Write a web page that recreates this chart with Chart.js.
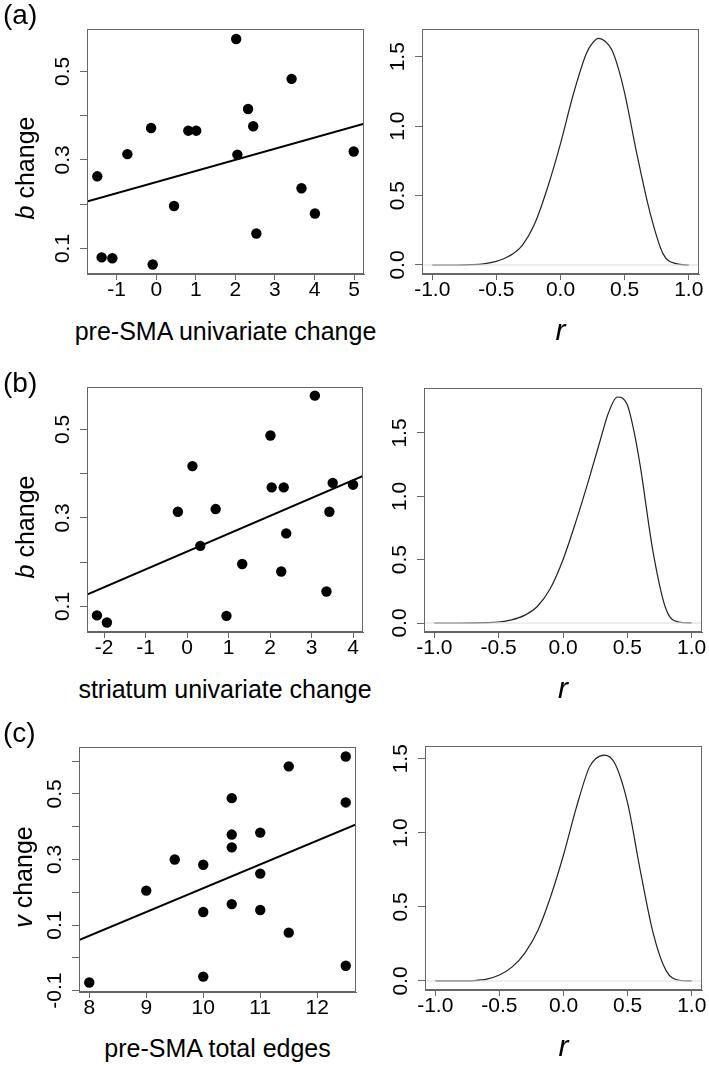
<!DOCTYPE html>
<html>
<head>
<meta charset="utf-8">
<script src="https://cdn.jsdelivr.net/npm/chart.js@4.4.0/dist/chart.umd.min.js"></script>
<style>
body { margin: 0; background: #fff; width: 709px; height: 1066px; position: relative; overflow: hidden;
       font-family: "Liberation Sans", Arial, Helvetica, sans-serif; }
canvas { position: absolute; }
.txt { position: absolute; white-space: nowrap; color: #000; line-height: 1; }
</style>
</head>
<body>
<canvas id="aScatter"></canvas>
<canvas id="aDensity"></canvas>
<canvas id="bScatter"></canvas>
<canvas id="bDensity"></canvas>
<canvas id="cScatter"></canvas>
<canvas id="cDensity"></canvas>
<script>
// (a) pre-SMA univariate change vs b change
const preSmaUni = [-1.49, -1.38, -1.11, -0.73, -0.13, -0.09, 0.45, 0.81, 1.01, 2.02, 2.05, 2.32, 2.45, 2.53, 3.42, 3.67, 4.01, 4.99];
const bChangeA = [0.263, 0.080, 0.078, 0.313, 0.372, 0.064, 0.196, 0.366, 0.366, 0.573, 0.312, 0.415, 0.376, 0.134, 0.483, 0.236, 0.179, 0.319];
const fitAX = [-1.75, 5.25];
const fitAY = [0.206, 0.382];

// (b) striatum univariate change vs b change
const striatumUni = [-2.17, -1.93, -0.22, 0.13, 0.32, 0.69, 0.95, 1.33, 2.01, 2.04, 2.33, 2.39, 2.27, 3.08, 3.36, 3.43, 3.51, 4.00];
const bChangeB = [0.080, 0.064, 0.314, 0.417, 0.237, 0.320, 0.079, 0.196, 0.486, 0.369, 0.369, 0.265, 0.179, 0.576, 0.134, 0.314, 0.379, 0.375];
const fitBX = [-2.41, 4.24];
const fitBY = [0.127, 0.395];

// (c) pre-SMA total edges vs v change
const preSmaEdges = [8, 9, 9.5, 10, 10, 10, 10.5, 10.5, 10.5, 10.5, 11, 11, 11, 11.5, 11.5, 12.5, 12.5, 12.5];
const vChange = [-0.075, 0.205, 0.300, 0.284, 0.140, -0.057, 0.487, 0.376, 0.337, 0.164, 0.382, 0.257, 0.146, 0.584, 0.077, 0.614, 0.474, -0.024];
const fitCX = [7.82, 12.68];
const fitCY = [0.054, 0.407];

// posterior densities of r
const rA = [-1, -0.8, -0.7, -0.6, -0.5, -0.4, -0.3, -0.2, -0.1, 0, 0.1, 0.2, 0.25, 0.297, 0.35, 0.4, 0.45, 0.5, 0.6, 0.7, 0.8, 0.9, 1];
const densA = [0, 0, 0.002, 0.008, 0.026, 0.064, 0.14, 0.30, 0.56, 0.874, 1.23, 1.52, 1.60, 1.633, 1.61, 1.55, 1.42, 1.24, 0.78, 0.37, 0.08, 0.01, 0];
const rB = [-1, -0.8, -0.7, -0.6, -0.5, -0.4, -0.3, -0.2, -0.1, 0, 0.1, 0.2, 0.3, 0.35, 0.422, 0.5, 0.55, 0.6, 0.7, 0.8, 0.9, 1];
const densB = [0, 0, 0.001, 0.003, 0.008, 0.025, 0.06, 0.13, 0.27, 0.50, 0.80, 1.13, 1.48, 1.65, 1.784, 1.72, 1.52, 1.24, 0.56, 0.11, 0.008, 0];
const rC = [-1, -0.8, -0.7, -0.6, -0.5, -0.4, -0.3, -0.2, -0.1, 0, 0.1, 0.2, 0.25, 0.317, 0.4, 0.5, 0.6, 0.7, 0.8, 0.9, 1];
const densC = [0, 0, 0.002, 0.012, 0.04, 0.095, 0.19, 0.34, 0.57, 0.85, 1.17, 1.44, 1.50, 1.525, 1.47, 1.20, 0.74, 0.32, 0.07, 0.005, 0];

// tick values and labelled ticks
const abXTicksA = [-1, 0, 1, 2, 3, 4, 5];
const abXTicksB = [-2, -1, 0, 1, 2, 3, 4];
const edgeTicks = [8, 9, 10, 11, 12];
const bTicks = [0.1, 0.2, 0.3, 0.4, 0.5];
const bTickLabels = [0.1, 0.3, 0.5];
const vTicks = [-0.1, 0, 0.1, 0.2, 0.3, 0.4, 0.5, 0.6];
const vTickLabels = [-0.1, 0.1, 0.3, 0.5];
const rTicks = [-1, -0.5, 0, 0.5, 1];
const densTicks = [0, 0.5, 1, 1.5];

const GRAY = '#666';
const FONT = '"Liberation Sans", Arial, Helvetica, sans-serif';
const TICK_SIZE = 21;
const AX_W = 50, AX_H = 40, PAD_T = 20, PAD_R = 20;

const measureCtx = document.createElement('canvas').getContext('2d');
measureCtx.font = TICK_SIZE + 'px ' + FONT;

const boxPlugin = {
  id: 'box',
  afterDraw(chart) {
    const a = chart.chartArea, ctx = chart.ctx;
    ctx.save();
    ctx.strokeStyle = GRAY;
    ctx.lineWidth = 1;
    ctx.strokeRect(Math.round(a.left) + 0.5, Math.round(a.top) + 0.5,
                   Math.round(a.right - a.left) - 1, Math.round(a.bottom - a.top) - 1);
    ctx.restore();
  }
};

function pts(xs, ys) {
  return xs.map((x, i) => ({ x: x, y: ys[i] }));
}

function makeChart(id, box, range, xTicks, yTicks, yLabels, xFmt, datasets) {
  const cv = document.getElementById(id);
  cv.width = box.r - box.l + AX_W + PAD_R;
  cv.height = box.b - box.t + PAD_T + AX_H;
  cv.style.left = (box.l - AX_W) + 'px';
  cv.style.top = (box.t - PAD_T) + 'px';
  const yStrings = yLabels.map(v => v.toFixed(1));
  const widest = Math.max(...yStrings.map(s => measureCtx.measureText(s).width));
  return new Chart(cv, {
    type: 'scatter',
    data: { datasets: datasets },
    plugins: [boxPlugin],
    options: {
      responsive: false,
      animation: false,
      devicePixelRatio: 1,
      layout: { padding: { top: PAD_T, right: PAD_R, left: 0, bottom: 0 } },
      plugins: { legend: { display: false }, tooltip: { enabled: false } },
      scales: {
        x: {
          type: 'linear', min: range[0], max: range[1],
          afterBuildTicks: s => { s.ticks = xTicks.map(v => ({ value: v })); },
          afterFit: s => { s.height = AX_H; },
          grid: { drawOnChartArea: false, drawTicks: true, tickLength: 6, color: GRAY },
          border: { color: GRAY },
          ticks: { font: { family: FONT, size: TICK_SIZE, lineHeight: 1 }, color: '#000', padding: 0,
                   maxRotation: 0, autoSkip: false, callback: v => xFmt(v) }
        },
        y: {
          type: 'linear', min: range[2], max: range[3],
          afterBuildTicks: s => { s.ticks = yTicks.map(v => ({ value: v })); },
          afterFit: s => { s.width = AX_W; },
          grid: { drawOnChartArea: false, drawTicks: true, tickLength: 7, color: GRAY },
          border: { color: GRAY },
          ticks: { font: { family: FONT, size: TICK_SIZE, lineHeight: 1 }, color: '#000',
                   minRotation: 90, maxRotation: 90, crossAlign: 'center',
                   padding: 16.5 - widest / 2, autoSkip: false,
                   callback: v => yLabels.includes(v) ? v.toFixed(1) : '' }
        }
      }
    }
  });
}

function scatterSets(xs, ys, fx, fy) {
  return [
    { data: pts(xs, ys), pointRadius: 5.2, pointBackgroundColor: '#000', pointBorderWidth: 0 },
    { data: pts(fx, fy), showLine: true, borderColor: '#000', borderWidth: 2, pointRadius: 0 }
  ];
}

function densitySets(rs, ds, range) {
  return [
    { data: pts([range[0], range[1]], [0, 0]), showLine: true, borderColor: '#dcdcdc', borderWidth: 1, pointRadius: 0 },
    { data: pts(rs, ds), showLine: true, borderColor: '#222', borderWidth: 1.2, pointRadius: 0,
      cubicInterpolationMode: 'monotone' }
  ];
}

const intFmt = v => String(v);
const oneFmt = v => v.toFixed(1);

const boxes = {
  aS: { l: 87, t: 29, r: 364, b: 274 },  aD: { l: 422, t: 29, r: 699, b: 274 },
  bS: { l: 87, t: 387, r: 363, b: 632 }, bD: { l: 424, t: 388, r: 702, b: 632 },
  cS: { l: 79, t: 747, r: 356, b: 992 }, cD: { l: 425, t: 746, r: 702, b: 990 }
};

const rngAS = [-1.75, 5.25, 0.0425, 0.5955];
const rngBS = [-2.41, 4.24, 0.0425, 0.5955];
const rngCS = [7.82, 12.68, -0.104, 0.643];
const rngAD = [-1.08, 1.08, -0.065, 1.70];
const rngBD = [-1.08, 1.08, -0.071, 1.855];
const rngCD = [-1.08, 1.08, -0.061, 1.586];

makeChart('aScatter', boxes.aS, rngAS, abXTicksA, bTicks, bTickLabels, intFmt, scatterSets(preSmaUni, bChangeA, fitAX, fitAY));
makeChart('bScatter', boxes.bS, rngBS, abXTicksB, bTicks, bTickLabels, intFmt, scatterSets(striatumUni, bChangeB, fitBX, fitBY));
makeChart('cScatter', boxes.cS, rngCS, edgeTicks, vTicks, vTickLabels, intFmt, scatterSets(preSmaEdges, vChange, fitCX, fitCY));
makeChart('aDensity', boxes.aD, rngAD, rTicks, densTicks, densTicks, oneFmt, densitySets(rA, densA, rngAD));
makeChart('bDensity', boxes.bD, rngBD, rTicks, densTicks, densTicks, oneFmt, densitySets(rB, densB, rngBD));
makeChart('cDensity', boxes.cD, rngCD, rTicks, densTicks, densTicks, oneFmt, densitySets(rC, densC, rngCD));

// text: centred at cx, baseline at by
function addText(html, cx, by, size) {
  const d = document.createElement('div');
  d.className = 'txt';
  d.innerHTML = html;
  d.style.fontSize = size + 'px';
  d.style.left = cx + 'px';
  d.style.top = (by - 0.8465 * size) + 'px';
  d.style.transform = 'translateX(-50%)';
  document.body.appendChild(d);
}
function addYTitle(html, cx, cy, size) {
  const d = document.createElement('div');
  d.className = 'txt';
  d.innerHTML = html;
  d.style.fontSize = size + 'px';
  d.style.left = cx + 'px';
  d.style.top = cy + 'px';
  d.style.transform = 'translate(-50%, -50%) rotate(-90deg)';
  document.body.appendChild(d);
}
function addLetter(s, x, by) {
  const d = document.createElement('div');
  d.className = 'txt';
  d.textContent = s;
  d.style.fontSize = '28px';
  d.style.left = x + 'px';
  d.style.top = (by - 0.8465 * 28) + 'px';
  document.body.appendChild(d);
}

addLetter('(a)', 3, 25);
addLetter('(b)', 3, 393);
addLetter('(c)', 3, 743);

addYTitle('<i>b</i> change', 25, 168, 25);
addYTitle('<i>b</i> change', 25, 527, 25);
addYTitle('<i>v</i> change', 23, 877, 25);

addText('pre-SMA univariate change', 225.5, 340, 25);
addText('striatum univariate change', 225, 698, 25);
addText('pre-SMA total edges', 217.5, 1057, 25);
addText('<i>r</i>', 560.5, 340, 30);
addText('<i>r</i>', 563, 698, 30);
addText('<i>r</i>', 563.5, 1056, 30);
</script>
</body>
</html>
